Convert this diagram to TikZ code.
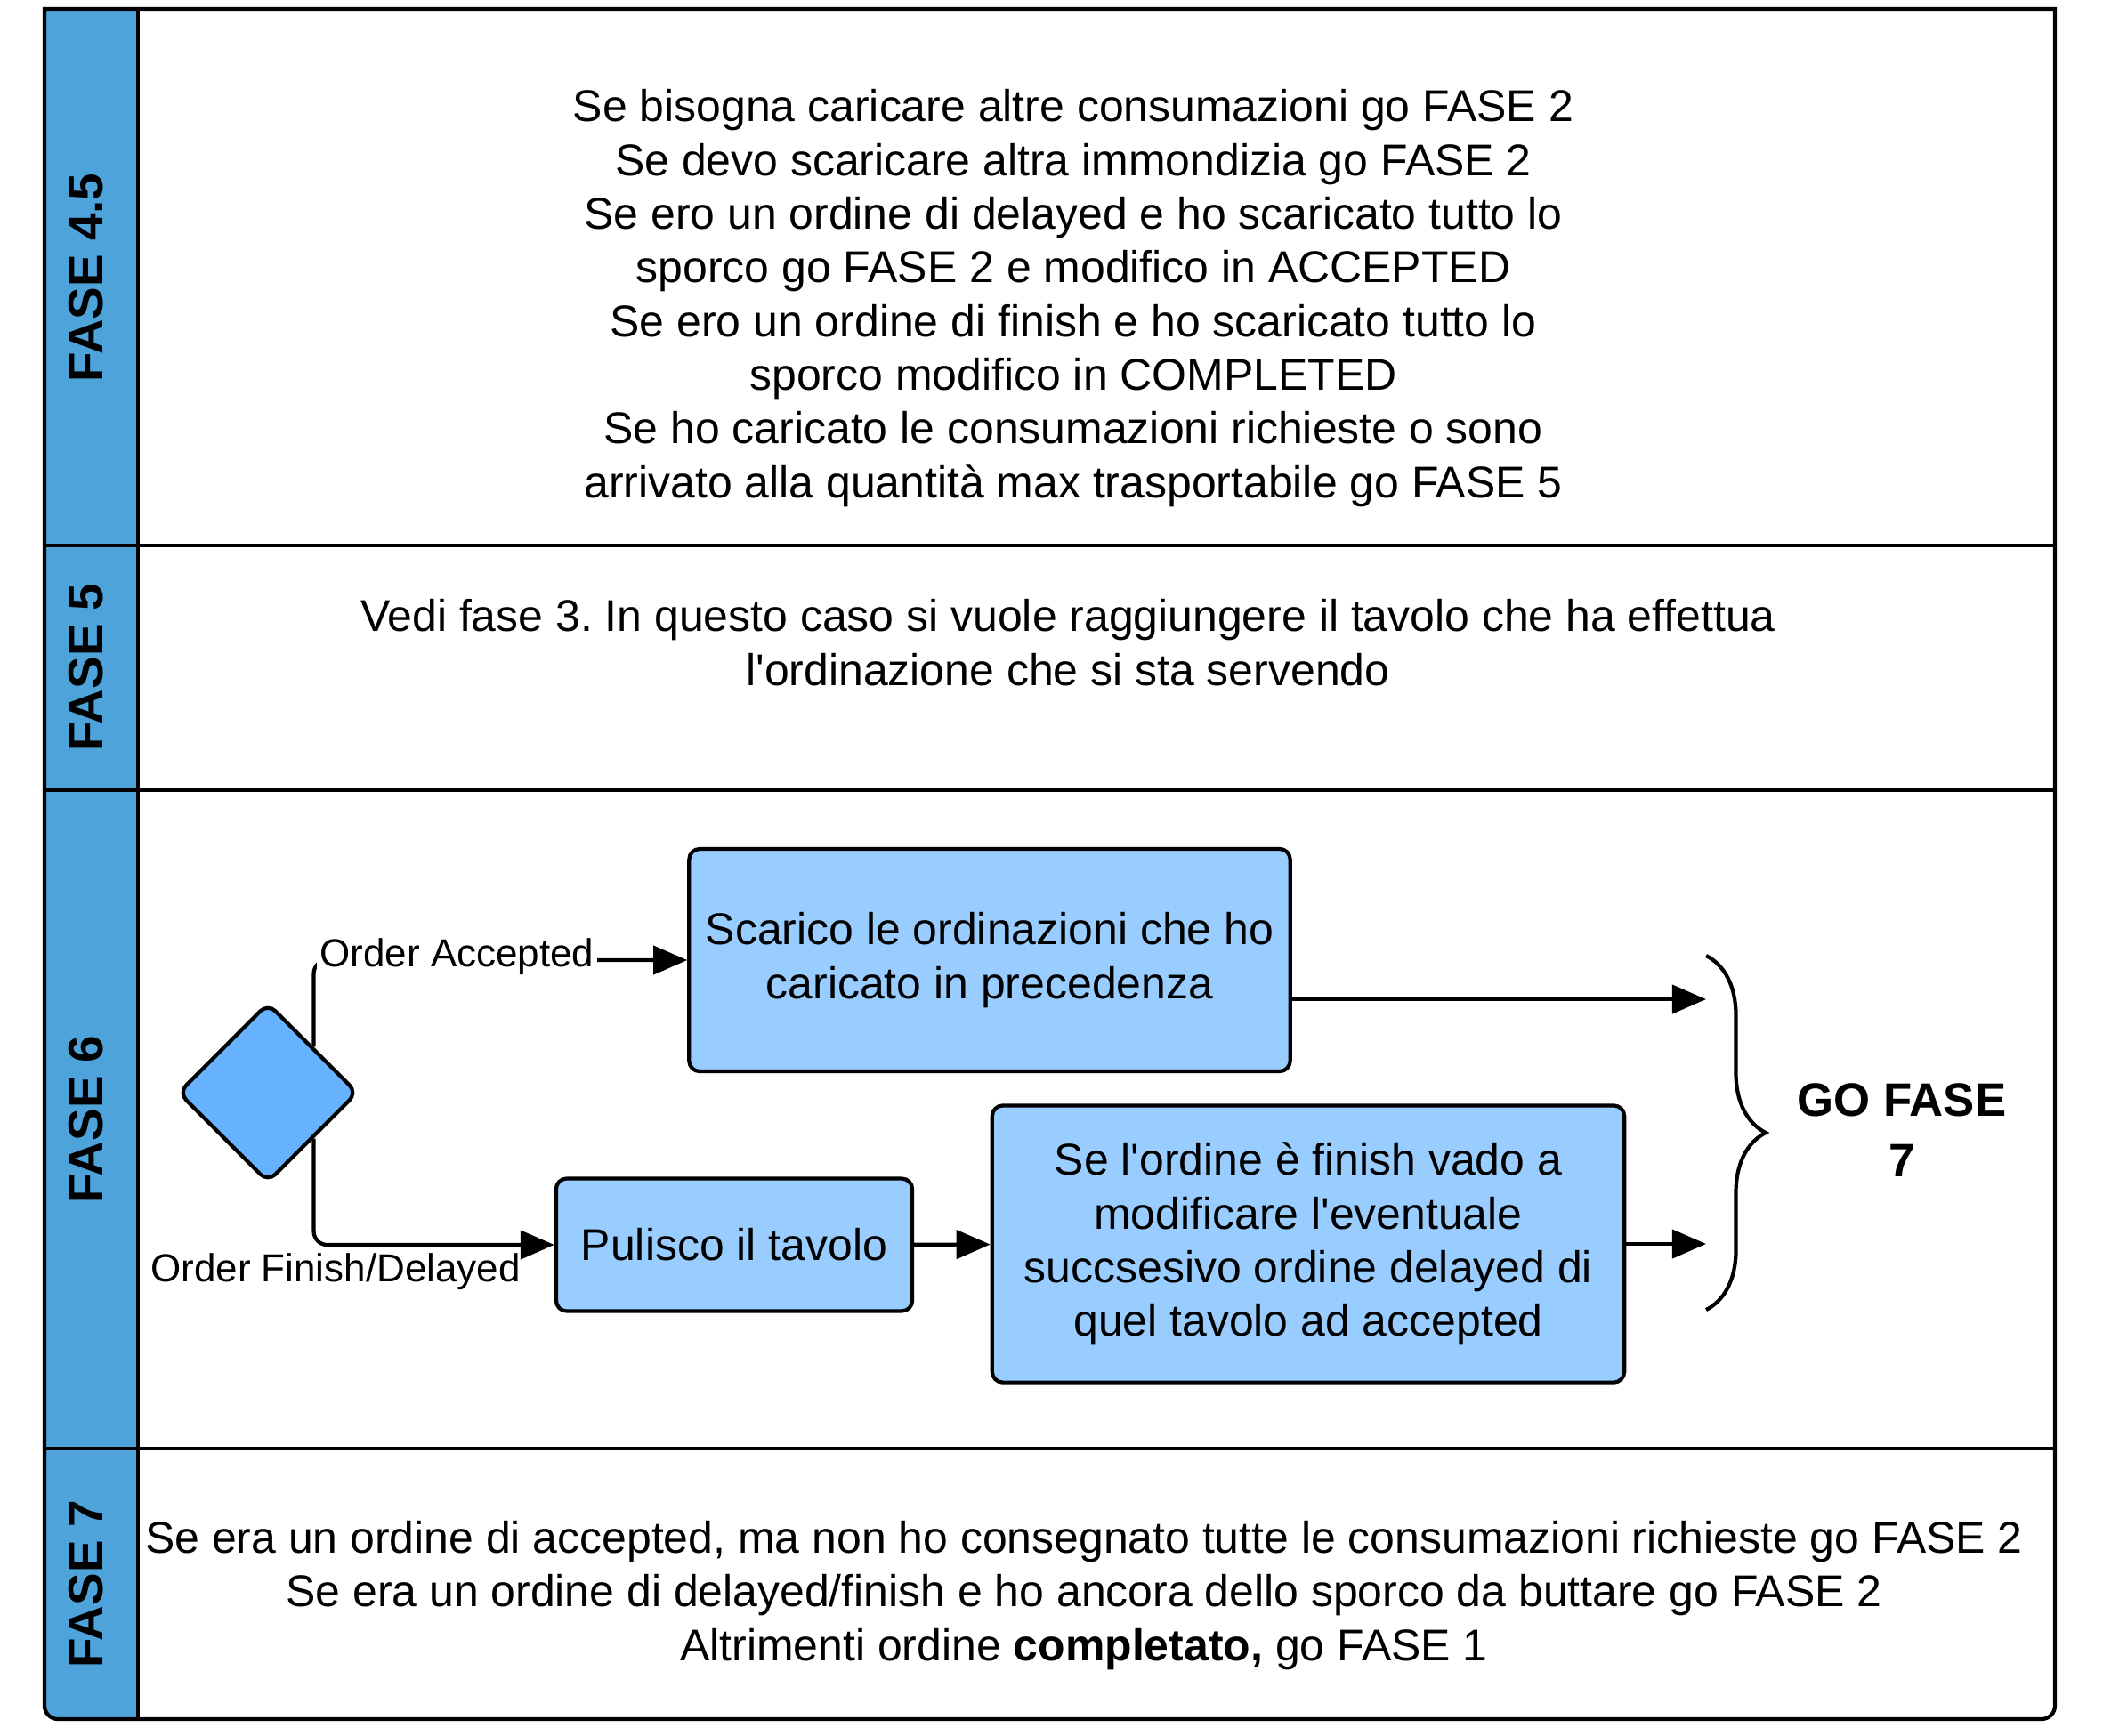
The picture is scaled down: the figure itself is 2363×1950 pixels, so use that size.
\documentclass[tikz,border=0pt]{standalone}
\usepackage{fontspec}
\setmainfont{Liberation Sans}
\usetikzlibrary{shapes.geometric,arrows.meta,decorations.pathreplacing}
\definecolor{lanehead}{HTML}{4DA3DA}
\definecolor{gatefill}{HTML}{66B2FF}
\definecolor{taskfill}{HTML}{99CCFF}
\frenchspacing

\begin{document}
\begin{tikzpicture}[
		x=0.01cm, y=-0.01cm,
		line width=1.2pt,
		every node/.style={font=\fontsize{14.2}{17.15}\selectfont, align=center, inner sep=0pt},
		lanetitle/.style={rotate=90, font=\fontsize{15.6}{18}\selectfont\bfseries},
		task/.style={rectangle, draw, fill=taskfill, rounded corners=0.12cm},
		gate/.style={diamond, draw, fill=gatefill, rounded corners=0.12cm, minimum size=2.02cm},
		flow/.style={-{Triangle[length=0.38cm, width=0.32cm]}, rounded corners=0.15cm},
		flowlabel/.style={font=\fontsize{12.5}{15}\selectfont, inner sep=1pt}
	]
  \useasboundingbox (0,0) rectangle (2363,1950);
  % lanes
  \fill[lanehead] (155,10) -- (50,10) [rounded corners=0.15cm] -- (50,1932) [sharp corners] -- (155,1932) -- cycle;
  \draw (1000,10) -- (2309,10) [rounded corners=0.15cm] -- (2309,1932) -- (50,1932) [sharp corners] -- (50,10) -- cycle;
  \draw (155,10) -- (155,1932);
  \draw (50,613) -- (2309,613);
  \draw (50,888) -- (2309,888);
  \draw (50,1628) -- (2309,1628);
  \node[lanetitle] (t45) at (97,312) {FASE 4.5};
  \node[lanetitle] (t5) at (97,750) {FASE 5};
  \node[lanetitle] (t6) at (97,1258) {FASE 6};
  \node[lanetitle] (t7) at (97,1780) {FASE 7};

  \node (txt45) at (1206,335) {Se bisogna caricare altre consumazioni go FASE 2\\
    Se devo scaricare altra immondizia go FASE 2\\
    Se ero un ordine di delayed e ho scaricato tutto lo\\
    sporco go FASE 2 e modifico in ACCEPTED\\
    Se ero un ordine di finish e ho scaricato tutto lo\\
    sporco modifico in COMPLETED\\
    Se ho caricato le consumazioni richieste o sono\\
    arrivato alla quantità max trasportabile go FASE 5};
  \node (txt5) at (1200,722) {Vedi fase 3. In questo caso si vuole raggiungere il tavolo che ha effettua\\
    l\textquotesingle ordinazione che si sta servendo};
  \node (txt7) at (1218,1793) {Se era un ordine di accepted, ma non ho consegnato tutte le consumazioni richieste go FASE 2\\
    Se era un ordine di delayed/finish e ho ancora dello sporco da buttare go FASE 2\\
    Altrimenti ordine \textbf{completato,} go FASE 1};

  % fase 6
  \node[gate] (gate) at (301,1228) {};
  \node[task, minimum width=6.75cm, minimum height=2.5cm] (scarico) at (1112,1079)
    {Scarico le ordinazioni che ho\\caricato in precedenza};
  \node[task, minimum width=4cm, minimum height=1.49cm] (pulisco) at (825,1399) {Pulisco il tavolo};
  \node[task, minimum width=7.1cm, minimum height=3.11cm] (modifico) at (1470,1398)
    {Se l\textquotesingle ordine è finish vado a\\modificare l\textquotesingle eventuale\\
     succsesivo ordine delayed di\\quel tavolo ad accepted};
  \coordinate (goA) at (1917,1123);
  \coordinate (goB) at (1917,1398);
  \coordinate (braceTop) at (1917,1074);
  \coordinate (braceBot) at (1917,1472);

  \draw[flow] (gate.north east) |- (scarico.west);
  \draw[flow] (gate.south east) |- (pulisco.west);
  \node[flowlabel, fill=white, anchor=west] (accLabel) at (354,1075) {Order Accepted};
  \node[flowlabel] (finLabel) at (377,1429) {Order Finish/Delayed};
  \draw[flow] (scarico.east |- goA) -- (goA);
  \draw[flow] (pulisco) -- (modifico);
  \draw[flow] (modifico) -- (goB);
  \draw[decorate, decoration={brace, amplitude=0.67cm, aspect=0.5}] (braceTop) -- (braceBot);
  \node[font=\fontsize{15}{19.5}\selectfont\bfseries] (goFase) at (2137,1270) {GO FASE\\7};
\end{tikzpicture}
\end{document}
